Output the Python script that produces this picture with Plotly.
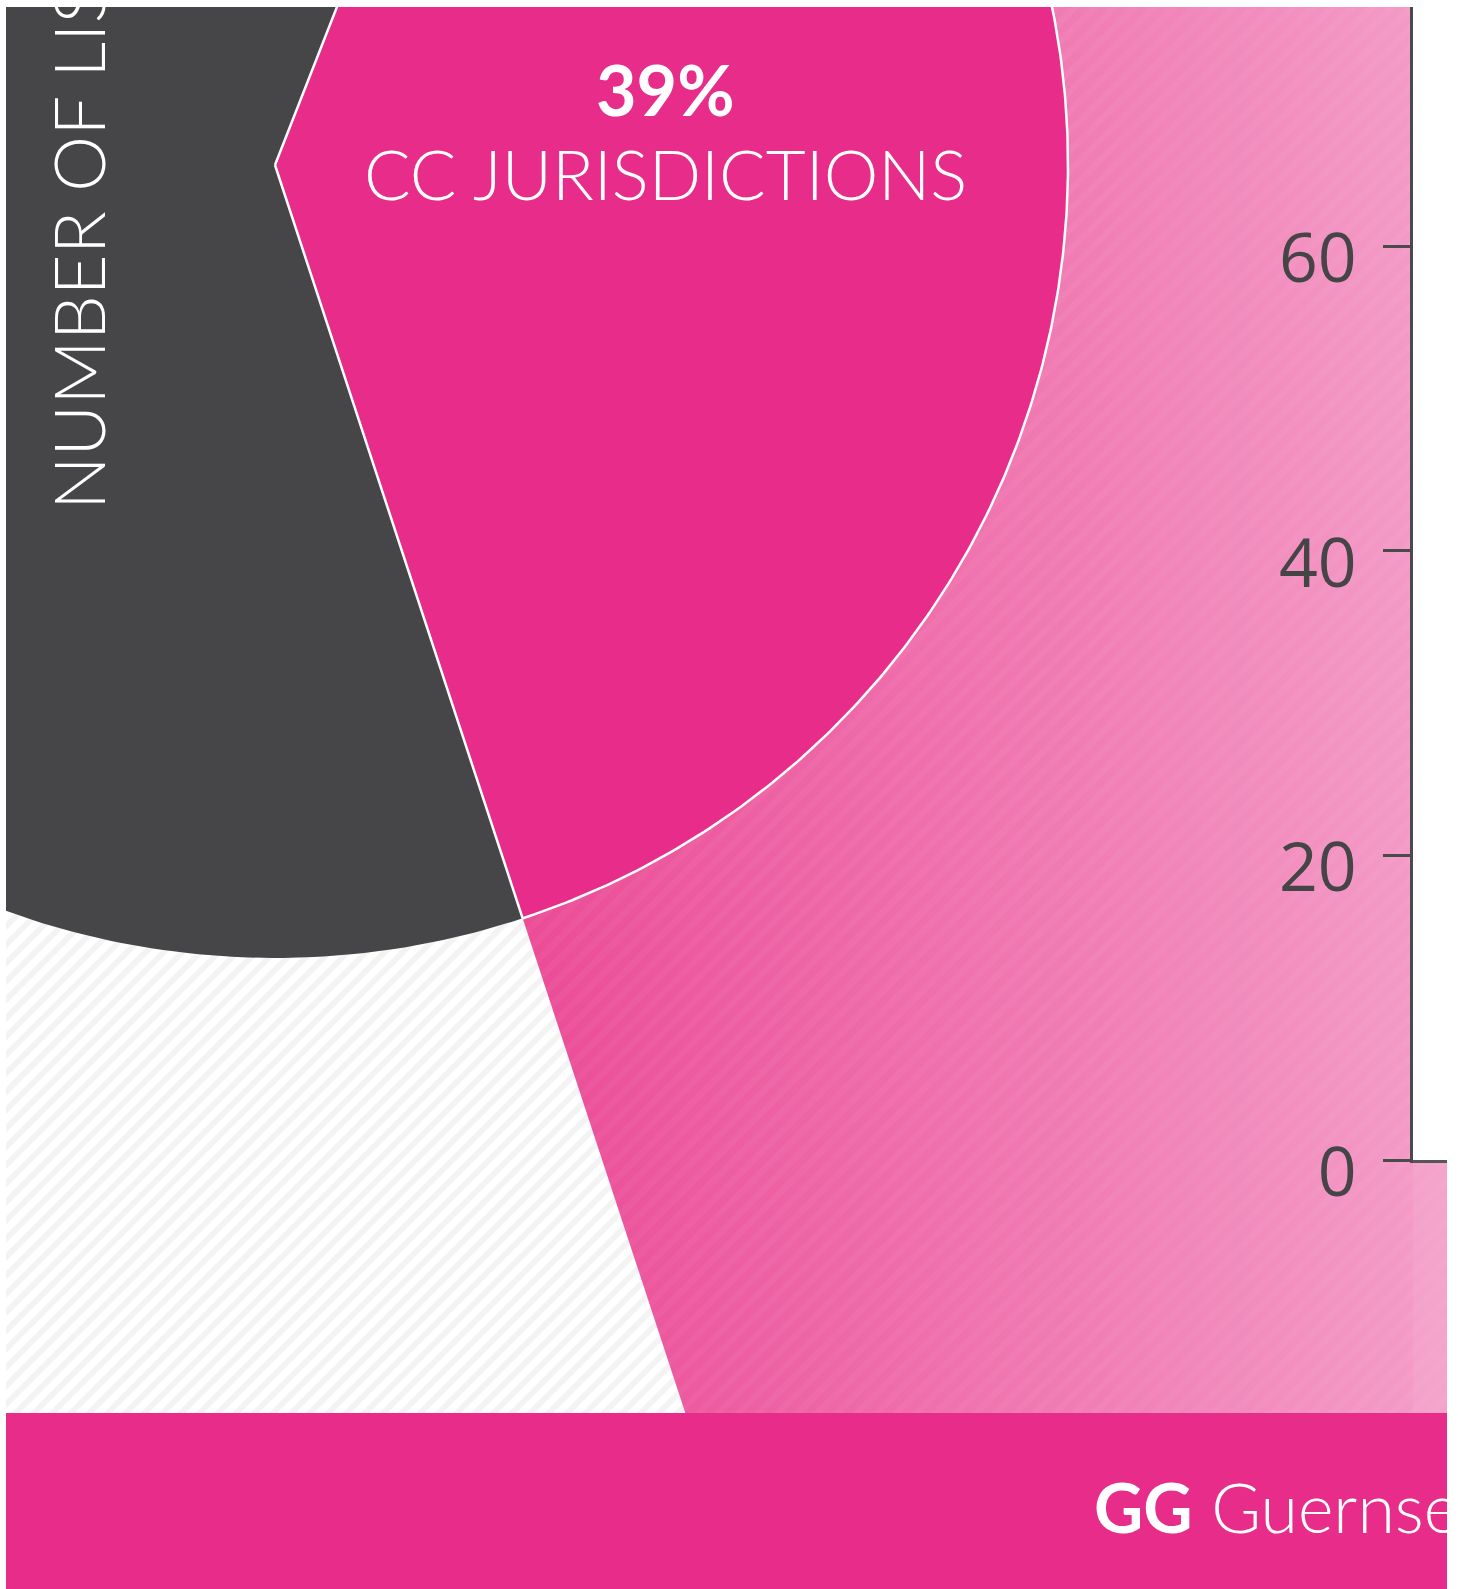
import numpy as np
import plotly.graph_objects as go

# ---------------- data ----------------
slice_labels = ["CC JURISDICTIONS", "OTHER"]
slice_shares = [39, 61]
slice_pct_text = ["39%", ""]
axis_tick_values = [0, 20, 40, 60]
axis_tick_labels = ["0", "20", "40", "60"]
axis_title = "NUMBER OF LISTINGS"
band_code = "GG"
band_name = "Guernsey"

# ---------------- layout constants ----------------
W, H = 1458, 1589
ML, MR, MT, MB = 6, 11, 7, 0
PW, PH = W - ML - MR, H - MT - MB
CX, CY = 275, 165          # pie centre (pixels)
R = 793                    # pie radius (pixels)
R_OUT = 4000               # background wedge radius
START_DEG = 21.4           # first slice starts here, clockwise from 12 o'clock

PINK = "#E72D89"
DARK = "#464547"
AX_COL = "#4A4A4C"

x_rng = [ML - CX, ML + PW - CX]
y_rng = [CY - (MT + PH), CY - MT]

# bar-chart value axis
ZERO_PX = 1160
PX_PER_UNIT = 15.23
AXIS_X_PX = 1413
BAND_TOP_PX = 1413


def px_to_paper_x(px):
    return (px - ML) / PW


def px_to_paper_y(py):
    return (H - MB - py) / PH


def wedge(a0, a1, r, n=300):
    t = np.radians(np.linspace(a0, a1, n))
    xs = np.concatenate([[0.0], r * np.sin(t), [0.0]])
    ys = np.concatenate([[0.0], r * np.cos(t), [0.0]])
    return xs, ys


total = sum(slice_shares)
angles = []
a = START_DEG
for s in slice_shares:
    b = a + 360.0 * s / total
    angles.append((a, b))
    a = b

fig = go.Figure()

# background: extended "other" wedge (white with grey hatch)
xo, yo = wedge(angles[1][0], angles[1][1], R_OUT)
fig.add_trace(go.Scatter(
    x=xo, y=yo, mode="lines", fill="toself", line=dict(width=0),
    fillcolor="white",
    fillpattern=dict(shape="/", fgcolor="#E8E8E8", bgcolor="white", size=13, solidity=0.45),
    hoverinfo="skip"))

# background: extended CC wedge (light pink gradient)
xp, yp = wedge(angles[0][0], angles[0][1], R_OUT)
fig.add_trace(go.Scatter(
    x=xp, y=yp, mode="lines", fill="toself", line=dict(width=0),
    fillgradient=dict(type="horizontal",
                      colorscale=[[0, "#EB4D97"], [1, "#F49DC8"]],
                      start=540 - CX, stop=W - MR - CX),
    hoverinfo="skip"))
# subtle hatch on the pink background
fig.add_trace(go.Scatter(
    x=xp, y=yp, mode="lines", fill="toself", line=dict(width=0),
    fillcolor="rgba(0,0,0,0)",
    fillpattern=dict(shape="/", fgcolor="rgba(255,255,255,0.07)",
                     bgcolor="rgba(0,0,0,0)", size=14, solidity=0.45),
    hoverinfo="skip"))

# pie slices
xd, yd = wedge(angles[1][0], angles[1][1], R)
fig.add_trace(go.Scatter(
    x=xd, y=yd, mode="lines", fill="toself", line=dict(width=0),
    fillcolor=DARK, hoverinfo="skip"))
xc, yc = wedge(angles[0][0], angles[0][1], R)
fig.add_trace(go.Scatter(
    x=xc, y=yc, mode="lines", fill="toself", line=dict(width=2.5, color="white"),
    fillcolor=PINK, hoverinfo="skip"))

# dummy trace on the bar-chart axes so they render
fig.add_trace(go.Scatter(x=[0.5], y=[0], xaxis="x2", yaxis="y2", mode="markers",
                         marker=dict(size=1, color="rgba(0,0,0,0)"), hoverinfo="skip"))

# light strip right of the value axis
fig.add_shape(type="rect", xref="paper", yref="paper",
              x0=px_to_paper_x(AXIS_X_PX), x1=1, y0=px_to_paper_y(BAND_TOP_PX), y1=1,
              fillcolor="rgba(255,255,255,0.07)", line=dict(width=0), layer="above")

# bottom band
fig.add_shape(type="rect", xref="paper", yref="paper",
              x0=0, x1=1, y0=0, y1=px_to_paper_y(BAND_TOP_PX),
              fillcolor="#E82C89", line=dict(width=0), layer="above")

# texts
fig.add_annotation(x=665 - CX, y=CY - 89, xref="x", yref="y",
                   text="<b>" + slice_pct_text[0] + "</b>", showarrow=False,
                   font=dict(family="Lato", size=70, color="white", weight=900),
                   xanchor="center", yanchor="middle")
fig.add_annotation(x=665 - CX, y=CY - 173, xref="x", yref="y",
                   text=slice_labels[0], showarrow=False,
                   font=dict(family="Lato", size=69, color="white", weight=300),
                   xanchor="center", yanchor="middle")
fig.add_annotation(x=77 - CX, y=CY - 512, xref="x", yref="y",
                   text=axis_title, showarrow=False, textangle=-90,
                   font=dict(family="Lato", size=71, color="white", weight=300),
                   xanchor="center", yanchor="bottom")
fig.add_annotation(x=px_to_paper_x(1092), y=px_to_paper_y(1506), xref="paper", yref="paper",
                   text="<b>" + band_code + "</b> " + band_name, showarrow=False,
                   font=dict(family="Lato", size=68, color="white", weight=300),
                   xanchor="left", yanchor="middle")

fig.update_layout(
    width=W, height=H, autosize=False,
    margin=dict(l=ML, r=MR, t=MT, b=MB, pad=0, autoexpand=False),
    paper_bgcolor="white", plot_bgcolor="white",
    showlegend=False, hovermode=False,
    xaxis=dict(range=x_rng, visible=False, domain=[0, 1], fixedrange=True, automargin=False),
    yaxis=dict(range=y_rng, visible=False, domain=[0, 1], fixedrange=True, automargin=False),
    xaxis2=dict(domain=[px_to_paper_x(AXIS_X_PX), 1], range=[0, 1], anchor="y2",
                showline=True, linecolor=AX_COL, linewidth=2.5, automargin=False,
                showticklabels=False, ticks="", showgrid=False, zeroline=False, fixedrange=True),
    yaxis2=dict(domain=[px_to_paper_y(ZERO_PX), 1], anchor="x2", automargin=False,
                range=[0, (ZERO_PX - MT) / PX_PER_UNIT], fixedrange=True,
                tickvals=axis_tick_values, ticktext=axis_tick_labels,
                showline=True, linecolor=AX_COL, linewidth=2.5,
                ticks="outside", ticklen=27, tickwidth=2.5, tickcolor=AX_COL,
                ticklabelstandoff=13, ticklabelshift=12,
                tickfont=dict(family="Open Sans", size=68, color="#454446"),
                showgrid=False, zeroline=False),
)

fig.write_html("out.html", config={"displayModeBar": False},
               post_script="document.body.style.margin='0px';document.body.style.overflow='hidden';")
